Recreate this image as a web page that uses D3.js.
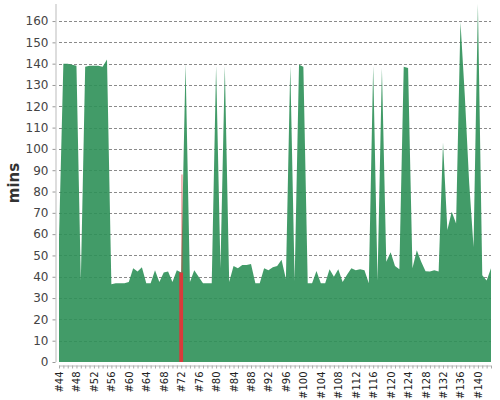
<!DOCTYPE html>
<html>
<head>
<meta charset="utf-8">
<script src="https://cdn.jsdelivr.net/npm/d3@7"></script>
<style>
html,body{margin:0;padding:0;background:#fff;}
svg{display:block;}
</style>
</head>
<body>
<svg id="chart" width="500" height="400"></svg>
<script>
// Build numbers (#44 .. #143)
const builds = d3.range(44, 144).map(n => "#" + n);
// Build durations in minutes (successful builds, green area)
const durations = [
  58, 140, 140, 139.5, 139, 38, 138.5, 139, 139, 139,
  138.5, 142, 36.5, 37, 37, 37, 37.5, 44, 42.5, 44.5,
  37, 37, 43, 37.5, 42, 42.5, 37.5, 43, 42, 140,
  37.5, 43, 40, 37, 37, 37, 139, 44, 139, 37.5,
  45, 44, 45.5, 45.5, 46, 37, 37, 44, 43, 44.5,
  45, 48, 39, 139, 38, 139.5, 138.5, 37, 37, 42.7,
  37, 37, 43.5, 40, 43.5, 37.5, 41, 44, 43, 43.5,
  43, 37, 139, 38, 138, 47, 51.5, 45, 43.5, 138.5,
  138, 44, 52.5, 47, 42.6, 42.5, 43, 42.5, 103, 62,
  70.5, 65, 159.5, 125, 84, 54, 168, 40.7, 38.3, 44
];
// Failed builds (red)
const failedBuilds = ["#72"];
const failedDurations = [42];
const failedPeaks = [88];
// Tick labels shown on the x axis (every 4th build)
const xTickLabels = d3.range(44, 144, 4).map(n => "#" + n);
const yTicks = d3.range(0, 161, 10);

const svg = d3.select("#chart");
const x = d3.scalePoint().domain(builds).range([59, 491]);
const y = d3.scaleLinear().domain([0, 168]).range([362, 4]);
const data = builds.map((b, i) => ({b, v: durations[i]}));

// grid
svg.append("g").selectAll("line").data(yTicks.filter(t => t > 0)).join("line")
  .attr("x1", 59).attr("x2", 491)
  .attr("y1", d => Math.round(y(d)) + 0.5).attr("y2", d => Math.round(y(d)) + 0.5)
  .attr("stroke", "#8a8a8a").attr("stroke-width", 1).attr("stroke-dasharray", "3,2");

// green area
const area = d3.area().x(d => x(d.b)).y0(y(0)).y1(d => y(d.v));
svg.append("path").datum(data).attr("d", area)
  .attr("fill", "rgb(45,144,88)").attr("fill-opacity", 0.9);

// failed build (red)
const fw = 3.8;
svg.append("g").selectAll("rect").data(failedBuilds).join("rect")
  .attr("x", d => x(d) - fw / 2).attr("width", fw)
  .attr("y", (d, i) => y(failedDurations[i]))
  .attr("height", (d, i) => y(0) - y(failedDurations[i]))
  .attr("fill", "#d93a3a");
svg.append("g").selectAll("line").data(failedBuilds).join("line")
  .attr("x1", d => x(d) + 0.8).attr("x2", d => x(d) + 0.8)
  .attr("y1", (d, i) => y(failedDurations[i])).attr("y2", (d, i) => y(failedPeaks[i]))
  .attr("stroke", "#d93a3a").attr("stroke-width", 1).attr("stroke-opacity", 0.7);

// y axis
const yAxis = d3.axisLeft(y).tickValues(yTicks).tickSize(3).tickPadding(4);
const gy = svg.append("g").attr("transform", "translate(55.5,0)").call(yAxis);
gy.select(".domain").attr("d", `M0.5,${y(168)}V${y(0)}`).attr("stroke", "#bbb");
gy.selectAll(".tick line").attr("stroke", "#999");
gy.selectAll("text").attr("font-family", "DejaVu Sans").attr("font-size", 12).attr("fill", "#444");

// x axis
const xAxis = d3.axisBottom(x).tickValues(builds).tickSize(3).tickFormat(d => xTickLabels.includes(d) ? d : "");
const gx = svg.append("g").attr("transform", "translate(0,365.5)").call(xAxis);
gx.select(".domain").attr("d", `M${x(builds[0])},0.5H${x(builds[builds.length-1])}`).attr("stroke", "#bbb");
gx.selectAll(".tick line").attr("stroke", "#aaa");
gx.selectAll("text")
  .attr("font-family", "DejaVu Sans").attr("font-size", 10).attr("fill", "#222")
  .attr("transform", "rotate(-90)").attr("text-anchor", "end")
  .attr("x", -6).attr("y", 0).attr("dy", "0.35em");

// y label
svg.append("text").attr("transform", "translate(19,183) rotate(-90)")
  .attr("text-anchor", "middle").attr("font-family", "DejaVu Sans").attr("font-weight", "bold")
  .attr("font-size", 15).attr("fill", "#333").text("mins");
</script>
</body>
</html>
